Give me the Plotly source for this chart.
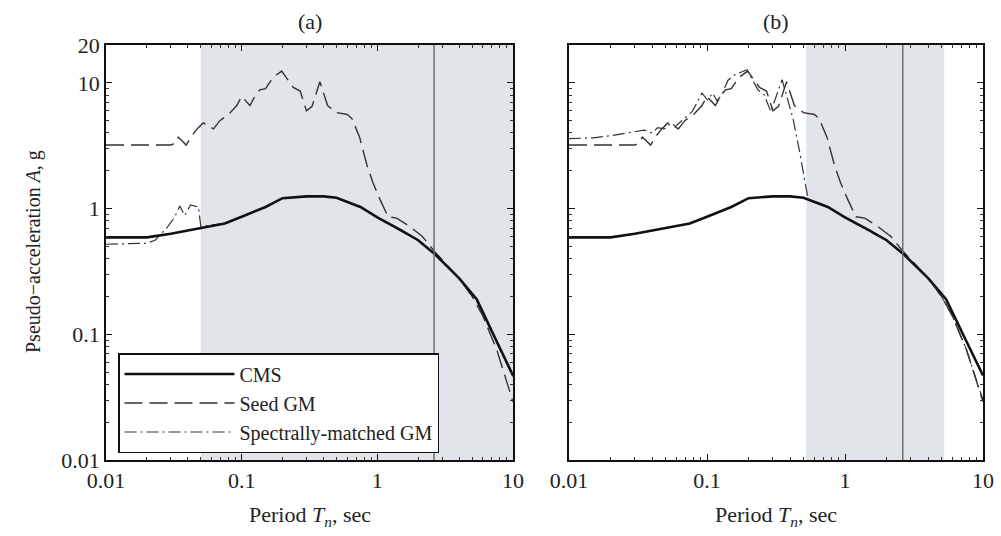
import plotly.graph_objects as go

# ---------------- data ----------------
T1 = 2.62
band_a = [0.05, 10.0]
band_b = [0.2 * T1, 2 * T1]

T_cms = [0.01, 0.02, 0.03, 0.05, 0.075, 0.1, 0.15, 0.2, 0.3, 0.4, 0.5, 0.75, 1.0, 1.5, 2.0, 2.62, 3.0, 4.0, 5.0, 5.4, 7.5, 10]
A_cms = [0.59, 0.59, 0.63, 0.70, 0.76, 0.86, 1.03, 1.21, 1.25, 1.25, 1.22, 1.03, 0.85, 0.67, 0.56, 0.44, 0.38, 0.28, 0.21, 0.19, 0.09, 0.047]

T_seed = [0.01, 0.03, 0.032, 0.034, 0.036, 0.039, 0.043, 0.047, 0.052, 0.057, 0.062, 0.069, 0.08, 0.092, 0.1, 0.115,
          0.125, 0.136, 0.15, 0.17, 0.197, 0.22, 0.24, 0.27, 0.30, 0.33, 0.377, 0.43, 0.5, 0.6, 0.65, 0.74, 0.84,
          0.93, 1.04, 1.2, 1.39, 1.73, 2.15, 2.62, 3.0, 4.0, 5.0, 6.0, 7.6, 10]
A_seed = [3.2, 3.2, 3.3, 3.7, 3.5, 3.2, 3.8, 4.3, 4.8, 4.5, 4.3, 5.0, 5.6, 6.6, 7.8, 6.6,
          7.8, 8.8, 9.0, 11.0, 12.4, 10.5, 9.2, 8.6, 6.0, 6.5, 10.2, 6.6, 5.8, 5.6, 5.2, 3.7, 2.2,
          1.6, 1.2, 0.86, 0.84, 0.72, 0.6, 0.46, 0.39, 0.28, 0.2, 0.14, 0.075, 0.029]

T_match_a = [0.01, 0.02, 0.023, 0.028, 0.032, 0.035, 0.038, 0.042, 0.048, 0.05, 0.075, 0.1, 0.15, 0.2, 0.3, 0.4,
             0.5, 0.75, 1.0, 1.5, 2.0, 2.62, 3.0, 4.0, 5.0, 5.4, 7.5, 10]
A_match_a = [0.52, 0.53, 0.56, 0.70, 0.85, 1.05, 0.88, 1.07, 1.03, 0.72, 0.76, 0.86, 1.03, 1.21, 1.25, 1.25,
             1.22, 1.04, 0.85, 0.66, 0.56, 0.44, 0.38, 0.28, 0.2, 0.185, 0.088, 0.046]

T_match_b = [0.01, 0.015, 0.02, 0.025, 0.03, 0.035, 0.04, 0.044, 0.049, 0.055, 0.059, 0.066, 0.078, 0.085, 0.092,
             0.101, 0.11, 0.118, 0.128, 0.142, 0.159, 0.195, 0.234, 0.26, 0.29, 0.35, 0.40, 0.42, 0.47, 0.51,
             0.54, 0.75, 1.0, 1.5, 2.0, 2.62, 3.0, 4.0, 5.0, 6.0, 7.6, 10]
A_match_b = [3.6, 3.65, 3.8, 3.95, 4.1, 4.2, 4.0, 4.4, 4.3, 4.8, 4.5, 5.0, 5.9, 7.0, 8.3,
             7.3, 8.3, 7.2, 8.0, 10.5, 11.6, 12.7, 8.8, 8.0, 5.9, 10.6, 6.5, 5.2, 2.8, 1.66,
             1.19, 1.04, 0.85, 0.66, 0.56, 0.44, 0.38, 0.28, 0.2, 0.14, 0.075, 0.03]

x_ticks = [0.01, 0.1, 1, 10]
x_ticktext = ["0.01", "0.1", "1", "10"]
y_ticks = [0.01, 0.1, 1, 10, 20]
y_ticktext = ["0.01", "0.1", "1", "10", "20"]
panel_titles = ["(a)", "(b)"]
legend_names = ["CMS", "Seed GM", "Spectrally-matched GM"]

# ---------------- figure ----------------
FONT = "Liberation Serif, Times New Roman, serif"
INK = "#222222"
FS = 22
fig = go.Figure()

styles = [dict(color="#111111", width=2.6, dash="solid"),
          dict(color="#333333", width=1.4, dash="18px,7px"),
          dict(color="#333333", width=1.2, dash="12px,4px,2px,4px")]

panels = [("x", "y", [(T_cms, A_cms), (T_seed, A_seed), (T_match_a, A_match_a)]),
          ("x2", "y2", [(T_cms, A_cms), (T_seed, A_seed), (T_match_b, A_match_b)])]

for p, (xa, ya, series) in enumerate(panels):
    for k in [2, 1, 0]:
        xs, ys = series[k]
        fig.add_trace(go.Scatter(x=xs, y=ys, mode="lines", xaxis=xa, yaxis=ya,
                                 line=styles[k], name=legend_names[k],
                                 showlegend=(p == 0), legendrank=k + 1))

minor_x = [m * 10 ** e for e in range(-2, 1) for m in range(2, 10)]
minor_y = [m * 10 ** e for e in range(-2, 1) for m in range(2, 10)]

common_x = dict(type="log", range=[-2, 1], showline=True, linecolor="#111", linewidth=1.5, mirror="ticks",
                ticks="inside", ticklen=6, tickwidth=1.2, tickcolor="#111", automargin=False,
                tickvals=x_ticks, ticktext=x_ticktext, showgrid=False, zeroline=False,
                minor=dict(ticks="inside", ticklen=3, tickvals=minor_x, tickcolor="#333", showgrid=False),
                tickfont=dict(family=FONT, size=FS, color=INK))
common_y = dict(type="log", range=[-2, 1.30103], showline=True, linecolor="#111", linewidth=1.5, mirror="ticks",
                ticks="inside", ticklen=6, tickwidth=1.2, tickcolor="#111", automargin=False,
                tickvals=y_ticks, ticktext=y_ticktext, showgrid=False, zeroline=False,
                minor=dict(ticks="inside", ticklen=3, tickvals=minor_y, tickcolor="#333", showgrid=False),
                tickfont=dict(family=FONT, size=FS, color=INK))

ydom = [1 - 460 / 536, 1 - 45 / 536]
fig.update_layout(
    width=1001, height=536,
    margin=dict(l=0, r=0, t=0, b=0, pad=0, autoexpand=False),
    paper_bgcolor="white", plot_bgcolor="white",
    xaxis=dict(common_x, domain=[106 / 1001, 513 / 1001], anchor="y"),
    yaxis=dict(common_y, domain=ydom, anchor="x"),
    xaxis2=dict(common_x, domain=[569 / 1001, 983 / 1001], anchor="y2"),
    yaxis2=dict(common_y, domain=ydom, anchor="x2", showticklabels=False),
    legend=dict(x=118 / 1001, y=1 - 353 / 536, xanchor="left", yanchor="top",
                bgcolor="white", bordercolor="#111", borderwidth=1.5,
                font=dict(family=FONT, size=20, color=INK), traceorder="normal",
                tracegroupgap=0, itemwidth=110),
    showlegend=True,
)

for xa, band in [("x", band_a), ("x2", band_b)]:
    fig.add_shape(type="rect", xref=xa, yref=xa.replace("x", "y") + " domain", x0=band[0], x1=band[1], y0=0, y1=1,
                  fillcolor="#e1e5ea", line=dict(width=0), layer="below")
    fig.add_shape(type="line", xref=xa, yref=xa.replace("x", "y") + " domain", x0=T1, x1=T1, y0=0, y1=1,
                  line=dict(color="#6e6e6e", width=1.5), layer="above")
    fig.add_annotation(xref=xa, yref="paper", x=T1, y=1 - 72 / 536, xshift=3, xanchor="left", yanchor="middle",
                       text="<i>T</i>* = <i>T</i><sub>1</sub>", showarrow=False,
                       font=dict(family=FONT, size=FS, color=INK))

for xa, t in zip(["x domain", "x2 domain"], panel_titles):
    fig.add_annotation(xref=xa, yref="paper", x=0.5, y=1 - 22 / 536, text=t, showarrow=False,
                       font=dict(family=FONT, size=FS, color=INK), yanchor="middle")
    fig.add_annotation(xref=xa, yref="paper", x=0.5, y=1 - 516 / 536, yanchor="middle",
                       text="Period <i>T<sub>n</sub></i>, sec", showarrow=False,
                       font=dict(family=FONT, size=FS, color=INK))

fig.add_annotation(xref="paper", yref="paper", x=33 / 1001, y=1 - 252 / 536, textangle=-90,
                   text="Pseudo\u2212acceleration <i>A</i>, g", showarrow=False,
                   xanchor="center", yanchor="middle", font=dict(family=FONT, size=20, color=INK))

fig.write_html("out.html")
